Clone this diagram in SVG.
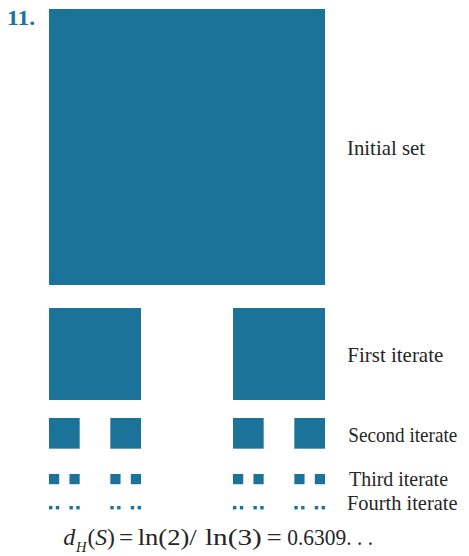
<svg xmlns="http://www.w3.org/2000/svg" width="469" height="556" viewBox="0 0 469 556">
<style>
.sq{fill:#1c7399}
.lbl{font-family:"Liberation Serif","Times New Roman",serif;font-size:21px;fill:#262626}
.num{font-family:"Liberation Serif","Times New Roman",serif;font-size:21px;font-weight:bold;fill:#1c7399}
.it{font-style:italic}
.f{font-size:23px}
</style>
<rect width="469" height="556" fill="#ffffff"/>
<text class="num" x="7" y="25" textLength="28" lengthAdjust="spacingAndGlyphs">11.</text>
<g id="initial">
<rect class="sq" x="49" y="9" width="276" height="276"/>
<text class="lbl" x="347" y="155" textLength="78" lengthAdjust="spacingAndGlyphs">Initial set</text>
</g>
<g id="first">
<rect class="sq" x="49" y="308" width="92" height="92"/>
<rect class="sq" x="233" y="308" width="92" height="92"/>
<text class="lbl" x="347.3" y="361.7" textLength="96" lengthAdjust="spacingAndGlyphs">First iterate</text>
</g>
<g id="second">
<rect class="sq" x="49" y="418" width="30.667" height="30.667"/>
<rect class="sq" x="110.333" y="418" width="30.667" height="30.667"/>
<rect class="sq" x="233" y="418" width="30.667" height="30.667"/>
<rect class="sq" x="294.333" y="418" width="30.667" height="30.667"/>
<text class="lbl" x="348.3" y="441.7" textLength="109" lengthAdjust="spacingAndGlyphs">Second iterate</text>
</g>
<g id="third">
<rect class="sq" x="49" y="474" width="10.222" height="10.222"/>
<rect class="sq" x="69.444" y="474" width="10.222" height="10.222"/>
<rect class="sq" x="110.333" y="474" width="10.222" height="10.222"/>
<rect class="sq" x="130.778" y="474" width="10.222" height="10.222"/>
<rect class="sq" x="233" y="474" width="10.222" height="10.222"/>
<rect class="sq" x="253.444" y="474" width="10.222" height="10.222"/>
<rect class="sq" x="294.333" y="474" width="10.222" height="10.222"/>
<rect class="sq" x="314.778" y="474" width="10.222" height="10.222"/>
<text class="lbl" x="349" y="486" textLength="99" lengthAdjust="spacingAndGlyphs">Third iterate</text>
</g>
<g id="fourth">
<rect class="sq" x="49" y="506" width="3.407" height="3.407"/>
<rect class="sq" x="55.815" y="506" width="3.407" height="3.407"/>
<rect class="sq" x="69.444" y="506" width="3.407" height="3.407"/>
<rect class="sq" x="76.259" y="506" width="3.407" height="3.407"/>
<rect class="sq" x="110.333" y="506" width="3.407" height="3.407"/>
<rect class="sq" x="117.148" y="506" width="3.407" height="3.407"/>
<rect class="sq" x="130.778" y="506" width="3.407" height="3.407"/>
<rect class="sq" x="137.593" y="506" width="3.407" height="3.407"/>
<rect class="sq" x="233" y="506" width="3.407" height="3.407"/>
<rect class="sq" x="239.815" y="506" width="3.407" height="3.407"/>
<rect class="sq" x="253.444" y="506" width="3.407" height="3.407"/>
<rect class="sq" x="260.259" y="506" width="3.407" height="3.407"/>
<rect class="sq" x="294.333" y="506" width="3.407" height="3.407"/>
<rect class="sq" x="301.148" y="506" width="3.407" height="3.407"/>
<rect class="sq" x="314.778" y="506" width="3.407" height="3.407"/>
<rect class="sq" x="321.593" y="506" width="3.407" height="3.407"/>
<text class="lbl" x="347" y="510" textLength="110.5" lengthAdjust="spacingAndGlyphs">Fourth iterate</text>
</g>
<g id="formula">
<text class="lbl it f" x="63.3" y="545" textLength="12" lengthAdjust="spacingAndGlyphs">d</text>
<text class="lbl it" x="76" y="552" style="font-size:15px" textLength="10.5" lengthAdjust="spacingAndGlyphs">H</text>
<text class="lbl f" x="87.5" y="545" textLength="27.5" lengthAdjust="spacingAndGlyphs">(<tspan class="it">S</tspan>)</text>
<text class="lbl f" x="119" y="545" textLength="14" lengthAdjust="spacingAndGlyphs">=</text>
<text class="lbl f" x="137.7" y="545" textLength="59" lengthAdjust="spacingAndGlyphs">ln(2)/</text>
<text class="lbl f" x="205" y="545" textLength="56.7" lengthAdjust="spacingAndGlyphs">ln(3)</text>
<text class="lbl f" x="266.7" y="545" textLength="15" lengthAdjust="spacingAndGlyphs">=</text>
<text class="lbl f" x="287.3" y="545" textLength="85.7" lengthAdjust="spacingAndGlyphs">0.6309. . .</text>
</g>
</svg>
